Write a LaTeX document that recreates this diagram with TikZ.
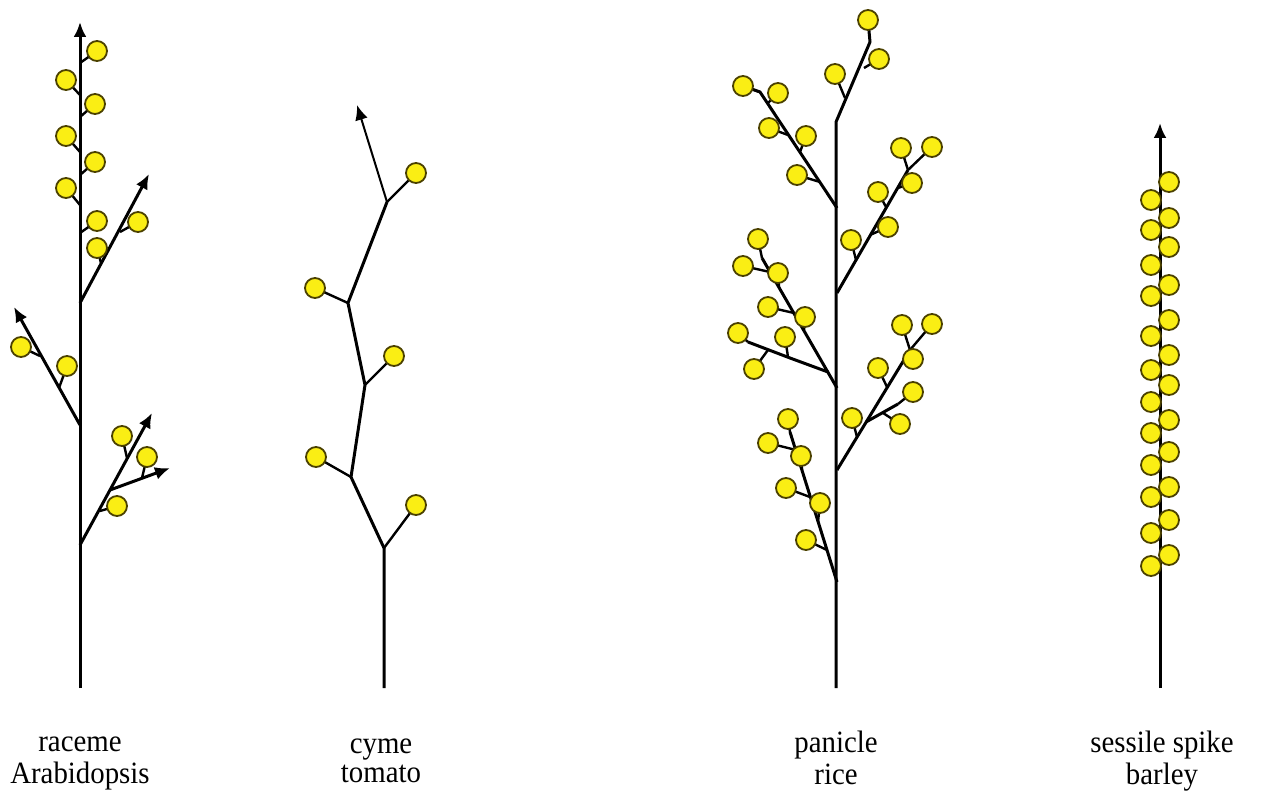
\documentclass[tikz,border=0pt]{standalone}
\usepackage{fontspec}
\setmainfont{Liberation Serif}
\newfontfamily\capfont[FakeStretch=0.93]{Liberation Serif}
\usetikzlibrary{arrows.meta}
\definecolor{petal}{RGB}{250,238,20}
\definecolor{rim}{RGB}{75,65,0}
\tikzstyle{stem} = [
    line width=1.5pt,
    line join=round
]
\tikzstyle{stalk} = [line width=1.2pt]
\tikzstyle{flower} = [
    fill=petal,
    draw=rim,
    line width=0.9pt
]
\tikzstyle{arrow} = [-{Latex[length=7.5pt,width=6.5pt]}]
\tikzstyle{caption} = [
    align=center,
    inner sep=0pt,
    font=\capfont\fontsize{15.5}{14.5}\selectfont
]

\begin{document}
\begin{tikzpicture}[x=0.5pt, y=-0.5pt]
\useasboundingbox (0,0) rectangle (1263,792);

% raceme
\draw [stem, arrow] (80,688) -- (80,22);
\draw [stem, arrow] (80,303) -- (149,174);
\draw [stem, arrow] (80,425) -- (14,307);
\draw [stem, arrow] (80,545) -- (152,413);
\draw [stem, arrow] (110,490) -- (170,468);
\foreach \sx/\sy/\fx/\fy in {80/63/97/51, 80/95/66/80, 80/117/95/104,
    80/152/66/136, 80/175/95/162, 80/205/66/188, 80/233/97/221,
    101/263/97/248, 120/232/138/222, 40/356/21/347, 59/388/67/366,
    127/458/122/436, 142/478/147/457, 100/511/117/506}
{
    \draw [stalk] (\sx,\sy) -- (\fx,\fy);
    \filldraw [flower] (\fx,\fy) circle (10);
}

% cyme
\draw [stem] (384,688) -- (384,548) -- (351,477) -- (365,385)
    -- (348,303) -- (387,202);
\draw [line width=1pt, arrow] (387,202) -- (357,105);
\foreach \sx/\sy/\fx/\fy in {384/548/416/505, 351/477/316/457,
    365/385/394/356, 348/303/315/288, 387/202/416/173}
{
    \draw [stalk] (\sx,\sy) -- (\fx,\fy);
    \filldraw [flower] (\fx,\fy) circle (10);
}

% panicle
\draw [stem] (836,688) -- (836,122) -- (870,42) -- (868,20);
\draw [stem] (837,208) -- (760,92) -- (743,86);
\draw [stem] (837,293) -- (908,170);
\draw [stem] (837,388) -- (762,258);
\draw [stem] (828,372) -- (790,358) -- (748,342);
\draw [stem] (837,470) -- (910,350);
\draw [stem] (866,422) -- (898,404);
\draw [stem] (837,582) -- (790,432);
\foreach \sx/\sy/\fx/\fy in {868/30/868/20, 864/68/879/59, 845/98/835/74,
    760/92/743/86, 768/103/778/93, 788/135/769/128, 800/152/806/136,
    820/182/797/175,
    908/170/901/148, 908/170/932/147, 898/188/912/183, 886/207/878/192,
    870/235/888/227, 856/260/851/240,
    762/258/758/239, 770/272/743/266, 779/287/778/273, 794/313/768/307,
    804/330/805/317, 748/342/738/333, 788/357/785/337, 768/350/754/369,
    910/350/902/325, 910/350/932/324, 902/363/913/359, 887/387/878/368,
    857/437/852/418, 898/404/913/392, 883/413/900/424,
    790/432/788/419, 796/450/768/443, 802/470/801/456, 810/497/786/488,
    818/522/820/503, 827/550/806/540}
{
    \draw [stalk] (\sx,\sy) -- (\fx,\fy);
    \filldraw [flower] (\fx,\fy) circle (10);
}

% sessile spike
\draw [stem, arrow] (1160,688) -- (1160,123);
\foreach \fx/\fy in {1169/182, 1151/200, 1169/218, 1151/230, 1169/247,
    1151/265, 1169/285, 1151/296, 1169/320, 1151/336, 1169/355,
    1151/370, 1169/385, 1151/402, 1169/420, 1151/433, 1169/452,
    1151/465, 1169/487, 1151/497, 1169/520, 1151/533, 1169/555,
    1151/566}
{
    \filldraw [flower] (\fx,\fy) circle (10);
}

% captions
\node (raceme) [caption] at (80,762) {raceme\strut\\Arabidopsis\strut};
\node (cyme) [caption] at (381,762) {cyme\strut\\tomato\strut};
\node (panicle) [caption] at (836,762) {panicle\strut\\rice\strut};
\node (spike) [caption] at (1162,762) {sessile spike\strut\\barley\strut};

\end{tikzpicture}
\end{document}
